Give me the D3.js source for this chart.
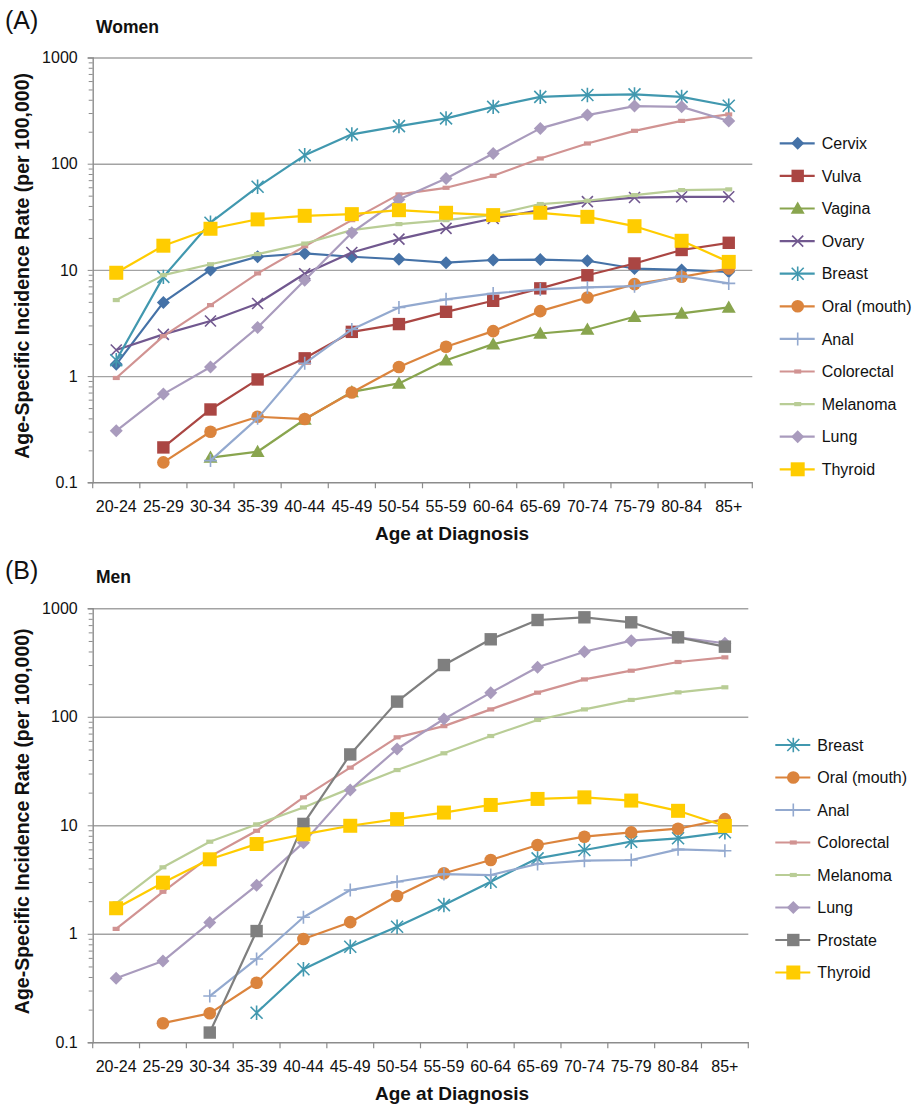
<!DOCTYPE html>
<html>
<head>
<meta charset="utf-8">
<script src="https://cdn.jsdelivr.net/npm/d3@7"></script>
<style>
  body { margin: 0; background: #fff; }
  svg { font-family: "Liberation Sans", Arial, Helvetica, sans-serif; }
</style>
</head>
<body>
<script>
// Catégories d'âge
const ageGroups = ["20-24", "25-29", "30-34", "35-39", "40-44", "45-49", "50-54",
                   "55-59", "60-64", "65-69", "70-74", "75-79", "80-84", "85+"];

// Femmes (taux pour 100 000)
const womenCervix     = [1.29, 4.94, 10, 13.3, 14.3, 13.3, 12.6, 11.7, 12.4, 12.5, 12.2, 10.3, 10, 9.6];
const womenVulva      = [null, 0.213, 0.485, 0.93, 1.47, 2.61, 3.09, 4.03, 5.12, 6.7, 8.9, 11.5, 15.4, 18];
const womenVagina     = [null, null, 0.171, 0.194, 0.39, 0.71, 0.853, 1.41, 2.0, 2.52, 2.75, 3.62, 3.89, 4.43];
const womenOvary      = [1.76, 2.47, 3.3, 4.83, 9.2, 14.6, 19.5, 24.6, 30.5, 36.6, 44, 48, 48.8, 48.8];
const womenBreast     = [1.41, 8.6, 27.8, 60.6, 120, 189, 226, 267, 343, 426, 443, 449, 426, 351];
const womenOral       = [null, 0.154, 0.299, 0.414, 0.394, 0.70, 1.22, 1.89, 2.65, 4.09, 5.5, 7.35, 8.61, 10.3];
const womenAnal       = [null, null, 0.16, 0.40, 1.32, 2.75, 4.43, 5.28, 6.0, 6.55, 6.84, 7.03, 8.74, 7.46];
const womenColorectal = [0.96, 2.38, 4.66, 9.27, 16.7, 29.4, 51.4, 59.3, 76.9, 112, 155, 204, 253, 291];
const womenMelanoma   = [5.2, 8.93, 11.3, 14.1, 17.7, 23.7, 27, 29.4, 33, 41.7, 44.8, 50.6, 56.4, 57.3];
const womenLung       = [0.305, 0.677, 1.22, 2.87, 8.0, 22.4, 46, 72.7, 125, 215, 287, 349, 343, 252];
const womenThyroid    = [9.4, 16.9, 24.4, 29.9, 32.3, 33.5, 36.5, 34.5, 32.8, 34.5, 31.6, 25.8, 18.8, 11.9];

// Hommes
const menBreast     = [null, null, null, 0.187, 0.471, 0.76, 1.16, 1.84, 3.02, 4.96, 5.92, 7.06, 7.59, 8.62];
const menOral       = [null, 0.15, 0.185, 0.354, 0.895, 1.28, 2.23, 3.61, 4.79, 6.58, 7.85, 8.6, 9.3, 11.4];
const menAnal       = [null, null, 0.267, 0.586, 1.42, 2.53, 3.02, 3.55, 3.48, 4.4, 4.72, 4.79, 6.0, 5.83];
const menColorectal = [1.11, 2.44, 5.14, 8.9, 18.1, 34, 64.7, 82, 117, 167, 221, 266, 320, 353];
const menMelanoma   = [1.91, 4.1, 7.06, 10.2, 14.6, 21.9, 32.3, 46.1, 66.5, 93.5, 117, 143, 168, 187];
const menLung       = [0.389, 0.561, 1.27, 2.8, 6.92, 21.2, 50.5, 95.5, 167, 286, 398, 503, 540, 476];
const menProstate   = [null, null, 0.123, 1.06, 10.3, 45, 138, 300, 518, 780, 826, 743, 540, 443];
const menThyroid    = [1.72, 2.96, 4.86, 6.72, 8.26, 9.9, 11.4, 13.1, 15.4, 17.5, 18.1, 16.9, 13.6, 9.86];

const yTicks = [0.1, 1, 10, 100, 1000];

// Styles par cancer
const styles = {
    "Cervix":       {color: "#4572A7", marker: "diamond",  size: 6.5},
    "Vulva":        {color: "#AA4643", marker: "square",   size: 6.2},
    "Vagina":       {color: "#89A54E", marker: "triangle", size: 7},
    "Ovary":        {color: "#71588F", marker: "x",        size: 5.5},
    "Breast":       {color: "#4198AF", marker: "star",     size: 6},
    "Oral (mouth)": {color: "#DB843D", marker: "circle",   size: 6.3},
    "Anal":         {color: "#93A9CF", marker: "plus",     size: 6.5},
    "Colorectal":   {color: "#D19392", marker: "dash",     size: 3.5},
    "Melanoma":     {color: "#B9CD96", marker: "dash",     size: 3.5},
    "Lung":         {color: "#A99BBD", marker: "diamond",  size: 6.5},
    "Prostate":     {color: "#7F7F7F", marker: "square",   size: 6.2},
    "Thyroid":      {color: "#FFCC00", marker: "square",   size: 7}
};

const womenSeries = [
    ["Cervix", womenCervix], ["Vulva", womenVulva], ["Vagina", womenVagina],
    ["Ovary", womenOvary], ["Breast", womenBreast], ["Oral (mouth)", womenOral],
    ["Anal", womenAnal], ["Colorectal", womenColorectal], ["Melanoma", womenMelanoma],
    ["Lung", womenLung], ["Thyroid", womenThyroid]
];
const menSeries = [
    ["Breast", menBreast], ["Oral (mouth)", menOral], ["Anal", menAnal],
    ["Colorectal", menColorectal], ["Melanoma", menMelanoma], ["Lung", menLung],
    ["Prostate", menProstate], ["Thyroid", menThyroid]
];

const svg = d3.select("body").append("svg")
    .attr("width", 914)
    .attr("height", 1107);

//Chemin des marqueurs
function markerPath(type, r) {
    switch (type) {
        case "diamond":  return `M0,${-r}L${r},0L0,${r}L${-r},0Z`;
        case "square":   return `M${-r},${-r}H${r}V${r}H${-r}Z`;
        case "triangle": return `M0,${-r}L${r},${r * 0.75}L${-r},${r * 0.75}Z`;
        case "circle":   return d3.symbol(d3.symbolCircle, Math.PI * r * r)();
        case "x":        return `M${-r},${-r}L${r},${r}M${-r},${r}L${r},${-r}`;
        case "star":     return `M${-r},${-r}L${r},${r}M${-r},${r}L${r},${-r}M0,${-r * 1.2}V${r * 1.2}`;
        case "plus":     return `M${-r},0H${r}M0,${-r}V${r}`;
        case "dash":     return `M${-r},${-r * 0.6}H${r}V${r * 0.6}H${-r}Z`;
    }
}
const strokeOnly = t => t === "x" || t === "star" || t === "plus";

function drawMarker(g, name, cx, cy) {
    let s = styles[name];
    let p = g.append("path")
        .attr("d", markerPath(s.marker, s.size))
        .attr("transform", `translate(${cx},${cy})`);
    if (strokeOnly(s.marker)) {
        p.attr("fill", "none").attr("stroke", s.color).attr("stroke-width", 1.6);
    } else {
        p.attr("fill", s.color);
    }
}

function panel(cfg) {
    let g = svg.append("g");

    let x = d3.scaleBand().domain(ageGroups).range([cfg.left, cfg.right]).padding(0);
    let y = d3.scaleLog().domain([0.1, 1000]).range([cfg.bottom, cfg.top]);
    let cx = d => x(d) + x.bandwidth() / 2;

    // Grille
    g.append("g")
        .attr("transform", `translate(${cfg.left},0)`)
        .call(d3.axisLeft(y).tickValues(yTicks.slice(1)).tickSize(-(cfg.right - cfg.left)).tickFormat(""))
        .call(a => a.select(".domain").remove())
        .selectAll("line").attr("stroke", "#a3a3a3").attr("stroke-width", 1.4);

    // Petites graduations
    let minor = [];
    yTicks.slice(0, -1).forEach(t => { for (let k = 2; k < 10; k++) minor.push(t * k); });
    g.append("g")
        .attr("transform", `translate(${cfg.left},0)`)
        .call(d3.axisLeft(y).tickValues(minor).tickSize(4).tickFormat(""))
        .call(a => a.select(".domain").remove())
        .selectAll("line").attr("stroke", "#8c8c8c");

    // Axe Y
    let axeY = g.append("g")
        .attr("transform", `translate(${cfg.left},0)`)
        .call(d3.axisLeft(y).tickValues(yTicks).tickSize(5).tickPadding(10)
            .tickFormat(d => d < 1 ? "0.1" : d3.format("d")(d)));
    axeY.select(".domain").attr("stroke", "#8c8c8c").attr("stroke-width", 1.4);
    axeY.selectAll("line").attr("stroke", "#8c8c8c");
    axeY.selectAll("text").attr("font-size", "16px").attr("fill", "#111")
        .attr("font-family", "Liberation Sans, Arial, sans-serif");

    // Axe X
    let axeX = g.append("g")
        .attr("transform", `translate(0,${cfg.bottom})`)
        .call(d3.axisBottom(x).tickSize(0).tickPadding(18));
    axeX.select(".domain").attr("stroke", "#8c8c8c").attr("stroke-width", 1.4);
    axeX.selectAll("text").attr("font-size", "16px").attr("fill", "#111")
        .attr("font-family", "Liberation Sans, Arial, sans-serif");
    let bornes = ageGroups.map(d => x(d)).concat([cfg.right]);
    g.selectAll(".borne").data(bornes).enter().append("line")
        .attr("x1", d => d).attr("x2", d => d)
        .attr("y1", cfg.bottom).attr("y2", cfg.bottom + 6)
        .attr("stroke", "#8c8c8c").attr("stroke-width", 1.2);

    // Séries
    let line = d3.line()
        .defined(d => d.v != null)
        .x(d => cx(d.age))
        .y(d => y(d.v));

    cfg.series.forEach(([name, values]) => {
        let pts = values.map((v, i) => ({age: ageGroups[i], v: v}));
        g.append("path")
            .datum(pts)
            .attr("fill", "none")
            .attr("stroke", styles[name].color)
            .attr("stroke-width", 2.2)
            .attr("stroke-linejoin", "round")
            .attr("d", line);
        let mg = g.append("g");
        pts.filter(d => d.v != null).forEach(d => drawMarker(mg, name, cx(d.age), y(d.v)));
    });

    // Légende
    cfg.series.forEach(([name], i) => {
        let ly = cfg.legendTop + i * cfg.legendStep;
        g.append("line")
            .attr("x1", cfg.legendX - 18).attr("x2", cfg.legendX + 17)
            .attr("y1", ly).attr("y2", ly)
            .attr("stroke", styles[name].color).attr("stroke-width", 2.2);
        drawMarker(g, name, cfg.legendX, ly);
        g.append("text")
            .attr("x", cfg.legendX + 24).attr("y", ly)
            .attr("dy", "0.35em")
            .attr("font-size", "16px").attr("fill", "#111")
            .text(name);
    });

    // Titres
    g.append("text").attr("x", 5).attr("y", cfg.top - 29)
        .attr("font-size", "25px").attr("fill", "#111").text(cfg.label);
    g.append("text").attr("x", 96).attr("y", cfg.top - 25)
        .attr("font-size", "17.5px").attr("font-weight", "bold").attr("fill", "#111").text(cfg.title);
    g.append("text").attr("x", 452).attr("y", cfg.bottom + 58)
        .attr("text-anchor", "middle")
        .attr("font-size", "19px").attr("font-weight", "bold").attr("fill", "#111")
        .text("Age at Diagnosis");
    g.append("text")
        .attr("transform", `translate(29,${(cfg.top + cfg.bottom) / 2 - 4}) rotate(-90)`)
        .attr("text-anchor", "middle")
        .attr("font-size", "19.5px").attr("font-weight", "bold").attr("fill", "#111")
        .text("Age-Specific Incidence Rate (per 100,000)");
}

panel({label: "(A)", title: "Women", series: womenSeries,
       left: 92.7, right: 752.3, top: 57.5, bottom: 482.3,
       legendX: 797.7, legendTop: 143.3, legendStep: 32.6});
panel({label: "(B)", title: "Men", series: menSeries,
       left: 92.7, right: 748.3, top: 608.3, bottom: 1042.3,
       legendX: 793.3, legendTop: 745, legendStep: 32.5});
</script>
</body>
</html>
